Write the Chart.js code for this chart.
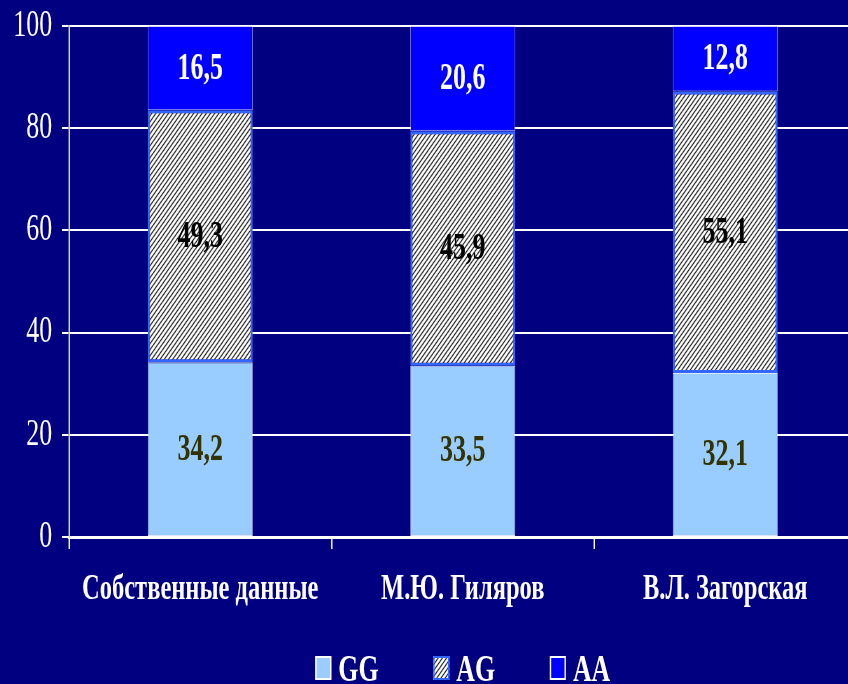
<!DOCTYPE html>
<html>
<head>
<meta charset="utf-8">
<script src="https://cdn.jsdelivr.net/npm/chart.js@4/dist/chart.umd.min.js"></script>
<style>
  html, body { margin: 0; padding: 0; background: #000080; overflow: hidden; width: 848px; height: 684px; }
  canvas { display: block; }
</style>
</head>
<body>
<canvas id="chart" width="1243" height="684"></canvas>
<script>
// Genotype distribution (%) by source
const categories = ['Собственные данные', 'М.Ю. Гиляров', 'В.Л. Загорская'];
const seriesNames = ['GG', 'AG', 'AA'];
const ggValues = [34.2, 33.5, 32.1];
const agValues = [49.3, 45.9, 55.1];
const aaValues = [16.5, 20.6, 12.8];
const yTicks = [0, 20, 40, 60, 80, 100];

// narrow typeface look: everything is drawn squeezed horizontally
const SQUEEZE = 0.7;
const FONT = 'Liberation Serif';

const canvas = document.getElementById('chart');
const ctx = canvas.getContext('2d');

function makeHatch() {
  const t = document.createElement('canvas');
  t.width = 6; t.height = 6;
  const g = t.getContext('2d');
  g.fillStyle = '#ffffff';
  g.fillRect(0, 0, 6, 6);
  g.strokeStyle = '#1a1a1a';
  g.lineWidth = 1.3;
  g.beginPath();
  g.moveTo(-1, 7); g.lineTo(7, -1);
  g.moveTo(-1, 1); g.lineTo(1, -1);
  g.moveTo(5, 7); g.lineTo(7, 5);
  g.stroke();
  return ctx.createPattern(t, 'repeat');
}
const hatch = makeHatch();

const labelColors = ['#333300', '#000000', '#ffffff'];
const legendBorders = ['#ffffff', '#3366ff', '#ffffff'];

const fmt = v => v.toFixed(1).replace('.', ',');

const squeezePlugin = {
  id: 'squeeze',
  beforeDraw(chart) {
    const c = chart.ctx;
    c.save();
    c.setTransform(SQUEEZE, 0, 0, 1, 0, 0);
    c.fillStyle = '#000080';
    c.fillRect(0, 0, chart.width, chart.height);
  },
  afterDatasetsDraw(chart) {
    const c = chart.ctx;
    c.save();
    c.font = `bold 37px "${FONT}"`;
    c.textAlign = 'center';
    c.textBaseline = 'middle';
    chart.data.datasets.forEach((ds, di) => {
      const meta = chart.getDatasetMeta(di);
      meta.data.forEach((bar, i) => {
        const p = bar.getProps(['x', 'y', 'base'], true);
        c.fillStyle = labelColors[di];
        c.fillText(fmt(ds.data[i]), p.x, (p.y + p.base) / 2 + 1);
      });
    });
    c.restore();
  },
  afterDraw(chart) {
    const c = chart.ctx;
    // legend row
    c.font = `bold 37px "${FONT}"`;
    c.textBaseline = 'alphabetic';
    c.textAlign = 'left';
    const boxW = 23, boxH = 24, gapText = 10, gapItem = 78;
    const items = chart.data.datasets.map(ds => ({ ds, w: boxW + gapText + c.measureText(ds.label).width }));
    const total = items.reduce((s, it) => s + it.w, 0) + gapItem * (items.length - 1);
    const area = chart.chartArea;
    let x = (area.left + area.right) / 2 - total / 2;
    const boxTop = 656;
    items.forEach((it, i) => {
      c.fillStyle = it.ds.backgroundColor;
      c.fillRect(x, boxTop, boxW, boxH);
      c.strokeStyle = legendBorders[i];
      c.lineWidth = 2;
      c.strokeRect(x + 1, boxTop + 1, boxW - 2, boxH - 2);
      c.fillStyle = '#ffffff';
      c.fillText(it.ds.label, x + boxW + gapText, boxTop + boxH + 1);
      x += it.w + gapItem;
    });
    c.restore();
  }
};

new Chart(canvas, {
  type: 'bar',
  data: {
    labels: categories,
    datasets: [
      { label: seriesNames[0], data: ggValues, backgroundColor: '#99ccff', borderColor: '#dde8ff', borderWidth: 1 },
      { label: seriesNames[1], data: agValues, backgroundColor: hatch, borderColor: '#3366ff', borderWidth: 3 },
      { label: seriesNames[2], data: aaValues, backgroundColor: '#0000ff', borderColor: '#d0d0ff', borderWidth: 1 }
    ]
  },
  options: {
    responsive: false,
    animation: false,
    devicePixelRatio: 1,
    layout: { padding: { top: 26, right: 19.4, bottom: 60, left: 0 } },
    datasets: { bar: { barPercentage: 0.4, categoryPercentage: 1, borderSkipped: false } },
    plugins: { legend: { display: false }, tooltip: { enabled: false }, title: { display: false } },
    scales: {
      x: {
        stacked: true,
        grid: { offset: true, drawOnChartArea: false, drawTicks: true, tickLength: 12, color: '#ffffff', lineWidth: 2 },
        border: { display: true, color: '#ffffff', width: 3 },
        ticks: { color: '#ffffff', font: { family: FONT, size: 35, weight: 'bold' }, padding: 20, maxRotation: 0, autoSkip: false },
        afterFit(scale) { scale.height = 87; }
      },
      y: {
        stacked: true,
        min: 0,
        max: 100,
        afterBuildTicks(scale) { scale.ticks = yTicks.map(v => ({ value: v })); },
        grid: { color: '#ffffff', lineWidth: 2, tickLength: 10, drawTicks: true },
        border: { display: true, color: '#d8d8ff', width: 2 },
        ticks: { color: '#ffffff', font: { family: FONT, size: 37, lineHeight: 0.6 }, padding: 14 },
        afterFit(scale) {
          scale.width = 98.6;
          scale.paddingTop = 0;
          scale.paddingBottom = 0;
        }
      }
    }
  },
  plugins: [squeezePlugin]
});
</script>
</body>
</html>
